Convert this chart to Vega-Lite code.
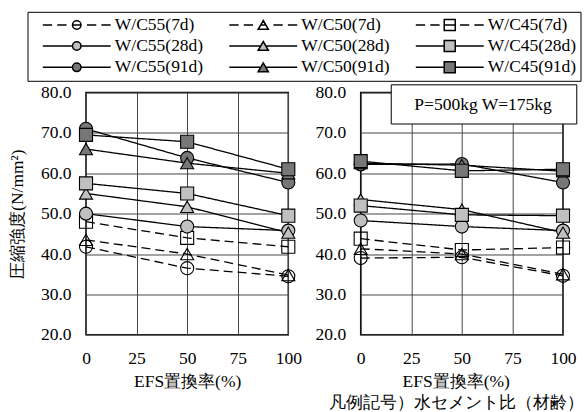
{
  "$schema": "https://vega.github.io/schema/vega-lite/v6.json",
  "autosize": {"type": "pad"},
  "padding": {"left": 7, "top": 10.5, "right": 0, "bottom": 0},
  "background": "white",
  "config": {
    "font": "Liberation Serif",
    "view": {"stroke": "black", "strokeWidth": 1.5},
    "axis": {
      "labelFont": "Liberation Serif",
      "labelFontSize": 17.5,
      "labelColor": "black",
      "titleFont": "Liberation Serif",
      "titleFontSize": 17.5,
      "titleFontWeight": "normal",
      "titleColor": "black",
      "ticks": false,
      "domain": false,
      "gridColor": "#444444",
      "gridWidth": 1,
      "gridOpacity": 1,
      "labelPadding": 15,
      "labelFlush": false,
      "labelOverlap": false
    }
  },
  "datasets": {
    "pts": [
      {"panel": "A", "efs": 0, "wc": "55", "age": "7d", "series": "W/C55(7d)", "strength": 41.8},
      {"panel": "A", "efs": 50, "wc": "55", "age": "7d", "series": "W/C55(7d)", "strength": 36.5},
      {"panel": "A", "efs": 100, "wc": "55", "age": "7d", "series": "W/C55(7d)", "strength": 34.5},
      {"panel": "A", "efs": 0, "wc": "50", "age": "7d", "series": "W/C50(7d)", "strength": 43.5},
      {"panel": "A", "efs": 50, "wc": "50", "age": "7d", "series": "W/C50(7d)", "strength": 40.0},
      {"panel": "A", "efs": 100, "wc": "50", "age": "7d", "series": "W/C50(7d)", "strength": 34.8},
      {"panel": "A", "efs": 0, "wc": "45", "age": "7d", "series": "W/C45(7d)", "strength": 48.0},
      {"panel": "A", "efs": 50, "wc": "45", "age": "7d", "series": "W/C45(7d)", "strength": 44.0},
      {"panel": "A", "efs": 100, "wc": "45", "age": "7d", "series": "W/C45(7d)", "strength": 41.8},
      {"panel": "A", "efs": 0, "wc": "55", "age": "28d", "series": "W/C55(28d)", "strength": 50.0},
      {"panel": "A", "efs": 50, "wc": "55", "age": "28d", "series": "W/C55(28d)", "strength": 46.8},
      {"panel": "A", "efs": 100, "wc": "55", "age": "28d", "series": "W/C55(28d)", "strength": 45.8},
      {"panel": "A", "efs": 0, "wc": "50", "age": "28d", "series": "W/C50(28d)", "strength": 55.0},
      {"panel": "A", "efs": 50, "wc": "50", "age": "28d", "series": "W/C50(28d)", "strength": 51.7},
      {"panel": "A", "efs": 100, "wc": "50", "age": "28d", "series": "W/C50(28d)", "strength": 45.3},
      {"panel": "A", "efs": 0, "wc": "45", "age": "28d", "series": "W/C45(28d)", "strength": 57.5},
      {"panel": "A", "efs": 50, "wc": "45", "age": "28d", "series": "W/C45(28d)", "strength": 55.0},
      {"panel": "A", "efs": 100, "wc": "45", "age": "28d", "series": "W/C45(28d)", "strength": 49.5},
      {"panel": "A", "efs": 0, "wc": "55", "age": "91d", "series": "W/C55(91d)", "strength": 71.0},
      {"panel": "A", "efs": 50, "wc": "55", "age": "91d", "series": "W/C55(91d)", "strength": 63.8},
      {"panel": "A", "efs": 100, "wc": "55", "age": "91d", "series": "W/C55(91d)", "strength": 57.7},
      {"panel": "A", "efs": 0, "wc": "50", "age": "91d", "series": "W/C50(91d)", "strength": 66.0},
      {"panel": "A", "efs": 50, "wc": "50", "age": "91d", "series": "W/C50(91d)", "strength": 62.5},
      {"panel": "A", "efs": 100, "wc": "50", "age": "91d", "series": "W/C50(91d)", "strength": 60.0},
      {"panel": "A", "efs": 0, "wc": "45", "age": "91d", "series": "W/C45(91d)", "strength": 69.5},
      {"panel": "A", "efs": 50, "wc": "45", "age": "91d", "series": "W/C45(91d)", "strength": 67.8},
      {"panel": "A", "efs": 100, "wc": "45", "age": "91d", "series": "W/C45(91d)", "strength": 61.0},
      {"panel": "B", "efs": 0, "wc": "55", "age": "7d", "series": "W/C55(7d)", "strength": 39.0},
      {"panel": "B", "efs": 50, "wc": "55", "age": "7d", "series": "W/C55(7d)", "strength": 39.2},
      {"panel": "B", "efs": 100, "wc": "55", "age": "7d", "series": "W/C55(7d)", "strength": 34.6},
      {"panel": "B", "efs": 0, "wc": "50", "age": "7d", "series": "W/C50(7d)", "strength": 41.3},
      {"panel": "B", "efs": 50, "wc": "50", "age": "7d", "series": "W/C50(7d)", "strength": 40.0},
      {"panel": "B", "efs": 100, "wc": "50", "age": "7d", "series": "W/C50(7d)", "strength": 35.0},
      {"panel": "B", "efs": 0, "wc": "45", "age": "7d", "series": "W/C45(7d)", "strength": 43.8},
      {"panel": "B", "efs": 50, "wc": "45", "age": "7d", "series": "W/C45(7d)", "strength": 41.0},
      {"panel": "B", "efs": 100, "wc": "45", "age": "7d", "series": "W/C45(7d)", "strength": 41.6},
      {"panel": "B", "efs": 0, "wc": "55", "age": "28d", "series": "W/C55(28d)", "strength": 48.3},
      {"panel": "B", "efs": 50, "wc": "55", "age": "28d", "series": "W/C55(28d)", "strength": 46.8},
      {"panel": "B", "efs": 100, "wc": "55", "age": "28d", "series": "W/C55(28d)", "strength": 45.8},
      {"panel": "B", "efs": 0, "wc": "50", "age": "28d", "series": "W/C50(28d)", "strength": 53.5},
      {"panel": "B", "efs": 50, "wc": "50", "age": "28d", "series": "W/C50(28d)", "strength": 51.0},
      {"panel": "B", "efs": 100, "wc": "50", "age": "28d", "series": "W/C50(28d)", "strength": 45.3},
      {"panel": "B", "efs": 0, "wc": "45", "age": "28d", "series": "W/C45(28d)", "strength": 52.0},
      {"panel": "B", "efs": 50, "wc": "45", "age": "28d", "series": "W/C45(28d)", "strength": 49.7},
      {"panel": "B", "efs": 100, "wc": "45", "age": "28d", "series": "W/C45(28d)", "strength": 49.5},
      {"panel": "B", "efs": 0, "wc": "55", "age": "91d", "series": "W/C55(91d)", "strength": 62.2},
      {"panel": "B", "efs": 50, "wc": "55", "age": "91d", "series": "W/C55(91d)", "strength": 62.3},
      {"panel": "B", "efs": 100, "wc": "55", "age": "91d", "series": "W/C55(91d)", "strength": 57.7},
      {"panel": "B", "efs": 0, "wc": "50", "age": "91d", "series": "W/C50(91d)", "strength": 62.5},
      {"panel": "B", "efs": 50, "wc": "50", "age": "91d", "series": "W/C50(91d)", "strength": 62.0},
      {"panel": "B", "efs": 100, "wc": "50", "age": "91d", "series": "W/C50(91d)", "strength": 60.5},
      {"panel": "B", "efs": 0, "wc": "45", "age": "91d", "series": "W/C45(91d)", "strength": 63.0},
      {"panel": "B", "efs": 50, "wc": "45", "age": "91d", "series": "W/C45(91d)", "strength": 60.6},
      {"panel": "B", "efs": 100, "wc": "45", "age": "91d", "series": "W/C45(91d)", "strength": 61.0}
    ],
    "note": [{"label": "P=500kg W=175kg"}]
  },
  "bounds": "flush",
  "spacing": 71.7,
  "resolve": {"scale": {"fill": "independent", "shape": "independent"}, "legend": {"fill": "independent", "shape": "independent"}},
  "hconcat": [
    {
      "width": 202.3,
      "height": 242.3,
      "resolve": {"scale": {"fill": "independent", "shape": "independent"}},
      "layer": [
        {
          "data": {"name": "pts"},
          "transform": [{"filter": "datum.panel == 'A'"}],
          "mark": {"type": "line", "color": "black", "strokeWidth": 1.3},
          "encoding": {
            "x": {"field": "efs", "type": "quantitative", "scale": {"domain": [0, 100], "nice": false},
                  "axis": {"values": [0, 25, 50, 75, 100], "title": "EFS置換率(%)", "titlePadding": 5, "labelFont": "Liberation Serif", "titleFont": "Liberation Serif"}},
            "y": {"field": "strength", "type": "quantitative", "scale": {"domain": [20, 80], "nice": false, "zero": false},
                  "axis": {"values": [20, 30, 40, 50, 60, 70, 80], "format": ".1f", "title": "圧縮強度(N/mm²)", "titlePadding": 14, "labelFont": "Liberation Serif", "titleFont": "Liberation Serif"}},
            "detail": {"field": "series", "type": "nominal"},
            "strokeDash": {"field": "age", "type": "nominal", "scale": {"domain": ["7d", "28d", "91d"], "range": [[9, 5], [1, 0], [1, 0]]}, "legend": null}
          }
        },
        {
          "data": {"name": "pts"},
          "transform": [{"filter": "datum.panel == 'A'"}],
          "mark": {"type": "point", "filled": true, "opacity": 1, "stroke": "black", "strokeWidth": 1.1, "size": 170},
          "encoding": {
            "x": {"field": "efs", "type": "quantitative"},
            "y": {"field": "strength", "type": "quantitative"},
            "shape": {"field": "wc", "type": "nominal", "scale": {"domain": ["55", "50", "45"], "range": ["circle", "triangle-up", "square"]}, "legend": null},
            "fill": {
              "field": "series", "type": "nominal",
              "scale": {
                "domain": ["W/C55(7d)", "W/C50(7d)", "W/C45(7d)", "W/C55(28d)", "W/C50(28d)", "W/C45(28d)", "W/C55(91d)", "W/C50(91d)", "W/C45(91d)"],
                "range": ["transparent", "transparent", "transparent", "#c0c0c0", "#c0c0c0", "#c0c0c0", "#777777", "#777777", "#777777"]
              },
              "legend": null
            }
          }
        },
        {
          "data": {"name": "pts"},
          "transform": [{"filter": "datum.panel == 'legend-only'"}],
          "mark": {"type": "point", "filled": true, "opacity": 1, "stroke": "black", "strokeWidth": 1.1, "size": 72},
          "encoding": {
            "x": {"field": "efs", "type": "quantitative"},
            "y": {"field": "strength", "type": "quantitative"},
            "shape": {
              "field": "series", "type": "nominal",
              "scale": {
                "domain": ["W/C55(7d)", "W/C50(7d)", "W/C45(7d)", "W/C55(28d)", "W/C50(28d)", "W/C45(28d)", "W/C55(91d)", "W/C50(91d)", "W/C45(91d)"],
                "range": [
                  "M-8,0L-5.8,0M-4.6,0L-2.4,0M2.4,0L4.6,0M5.8,0L8,0M-1,0L1,0M1,0A1,1,0,1,1,-1,0A1,1,0,1,1,1,0Z",
                  "M-8,0L-5.8,0M-4.6,0L-2.4,0M2.4,0L4.6,0M5.8,0L8,0M-0.6,0L0.6,0M0,-1.04L-1.2,1.04L1.2,1.04Z",
                  "M-8,0L-5.8,0M-4.6,0L-2.4,0M2.4,0L4.6,0M5.8,0L8,0M-1.3,0L1.3,0M-1.3,-1.3L1.3,-1.3L1.3,1.3L-1.3,1.3Z",
                  "M-8,0L-1,0M1,0L8,0M1,0A1,1,0,1,1,-1,0A1,1,0,1,1,1,0Z",
                  "M-8,0L-0.6,0M0.6,0L8,0M0,-1.04L-1.2,1.04L1.2,1.04Z",
                  "M-8,0L-1.3,0M1.3,0L8,0M-1.3,-1.3L1.3,-1.3L1.3,1.3L-1.3,1.3Z",
                  "M-8,0L-1,0M1,0L8,0M1,0A1,1,0,1,1,-1,0A1,1,0,1,1,1,0Z",
                  "M-8,0L-0.6,0M0.6,0L8,0M0,-1.04L-1.2,1.04L1.2,1.04Z",
                  "M-8,0L-1.3,0M1.3,0L8,0M-1.3,-1.3L1.3,-1.3L1.3,1.3L-1.3,1.3Z"
                ]
              },
              "legend": {
                "orient": "none",
                "legendX": -58.5,
                "legendY": -80.7,
                "columns": 3,
                "direction": "horizontal",
                "title": null,
                "strokeColor": "black",
                "padding": 4,
                "labelFont": "Liberation Serif",
                "labelFontSize": 17.5,
                "labelColor": "black",
                "symbolSize": 72,
                "symbolOpacity": 1,
                "symbolOffset": 36.5,
                "labelOffset": 29.3,
                "columnPadding": 14.5,
                "rowPadding": 2.4
              }
            },
            "fill": {
              "field": "series", "type": "nominal",
              "scale": {
                "domain": ["W/C55(7d)", "W/C50(7d)", "W/C45(7d)", "W/C55(28d)", "W/C50(28d)", "W/C45(28d)", "W/C55(91d)", "W/C50(91d)", "W/C45(91d)"],
                "range": ["transparent", "transparent", "transparent", "#c0c0c0", "#c0c0c0", "#c0c0c0", "#777777", "#777777", "#777777"]
              },
              "legend": {
                "orient": "none",
                "legendX": -58.5,
                "legendY": -80.7,
                "columns": 3,
                "direction": "horizontal",
                "title": null,
                "strokeColor": "black",
                "padding": 4,
                "labelFont": "Liberation Serif",
                "labelFontSize": 17.5,
                "labelColor": "black",
                "symbolSize": 72,
                "symbolOpacity": 1,
                "symbolOffset": 36.5,
                "labelOffset": 29.3,
                "columnPadding": 14.5,
                "rowPadding": 2.4
              }
            }
          }
        }
      ]
    },
    {
      "width": 202.3,
      "height": 242.3,
      "layer": [
        {
          "data": {"name": "pts"},
          "transform": [{"filter": "datum.panel == 'B'"}],
          "mark": {"type": "line", "color": "black", "strokeWidth": 1.3},
          "encoding": {
            "x": {"field": "efs", "type": "quantitative", "scale": {"domain": [0, 100], "nice": false},
                  "axis": {"values": [0, 25, 50, 75, 100], "title": ["EFS置換率(%)", "凡例記号）水セメント比（材齢）"], "titlePadding": 5, "titleLineHeight": 21.5, "titleX": 95, "labelFont": "Liberation Serif", "titleFont": "Liberation Serif"}},
            "y": {"field": "strength", "type": "quantitative", "scale": {"domain": [20, 80], "nice": false, "zero": false},
                  "axis": {"values": [20, 30, 40, 50, 60, 70, 80], "format": ".1f", "title": null, "labelFont": "Liberation Serif"}},
            "detail": {"field": "series", "type": "nominal"},
            "strokeDash": {"field": "age", "type": "nominal", "scale": {"domain": ["7d", "28d", "91d"], "range": [[9, 5], [1, 0], [1, 0]]}, "legend": null}
          }
        },
        {
          "data": {"name": "pts"},
          "transform": [{"filter": "datum.panel == 'B'"}],
          "mark": {"type": "point", "filled": true, "opacity": 1, "stroke": "black", "strokeWidth": 1.1, "size": 170},
          "encoding": {
            "x": {"field": "efs", "type": "quantitative"},
            "y": {"field": "strength", "type": "quantitative"},
            "shape": {"field": "wc", "type": "nominal", "scale": {"domain": ["55", "50", "45"], "range": ["circle", "triangle-up", "square"]}, "legend": null},
            "fill": {
              "field": "series", "type": "nominal",
              "scale": {
                "domain": ["W/C55(7d)", "W/C50(7d)", "W/C45(7d)", "W/C55(28d)", "W/C50(28d)", "W/C45(28d)", "W/C55(91d)", "W/C50(91d)", "W/C45(91d)"],
                "range": ["transparent", "transparent", "transparent", "#c0c0c0", "#c0c0c0", "#c0c0c0", "#777777", "#777777", "#777777"]
              },
              "legend": null
            }
          }
        },
        {
          "data": {"name": "note"},
          "mark": {"type": "rect", "fill": "white", "stroke": "black", "strokeWidth": 1},
          "encoding": {
            "x": {"datum": 15.1, "type": "quantitative"},
            "x2": {"datum": 106.8},
            "y": {"datum": 81.9, "type": "quantitative"},
            "y2": {"datum": 72.2}
          }
        },
        {
          "data": {"name": "note"},
          "mark": {"type": "text", "font": "Liberation Serif", "fontSize": 17.5, "color": "black"},
          "encoding": {
            "text": {"field": "label", "type": "nominal"},
            "x": {"datum": 60.5, "type": "quantitative"},
            "y": {"datum": 76.9, "type": "quantitative"}
          }
        }
      ]
    }
  ]
}
